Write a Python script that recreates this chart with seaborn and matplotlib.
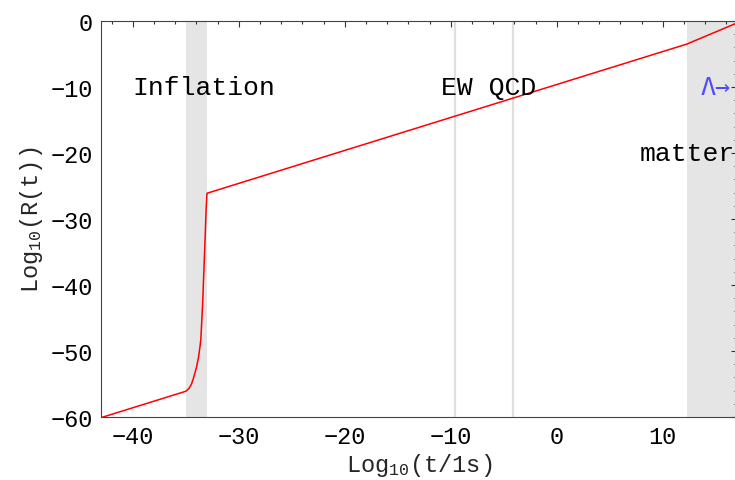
import numpy as np
import pandas as pd
import matplotlib
matplotlib.use("Agg")
import matplotlib.pyplot as plt
import seaborn as sns
from matplotlib.ticker import MultipleLocator

# scale factor history (log10 t, log10 R)
log_t = [-43.0, -35.0, -34.69, -34.46, -34.25, -33.99, -33.80, -33.65,
         -33.58, -33.42, -33.30, -33.18, -33.08, -33.0, 12.26, 17.0]
log_R = [-60.1, -56.1, -55.65, -55.0, -53.98, -52.47, -50.95, -49.2,
         -48.2, -43.1, -38.1, -33.0, -28.5, -26.1, -3.5, -0.3]

# shaded epochs and marker lines
inflation_band = (-35.0, -33.0)
matter_band = (12.3, 17.0)
transition_lines = [-9.6, -4.15]   # EW, QCD

labels = ["Inflation", "EW QCD", "matter"]
label_x = [-40.0, -10.9, 7.8]
label_y = [-10.0, -10.0, -20.0]


def main():
    sns.set_style("white")
    plt.rcParams["font.family"] = ["Liberation Mono", "DejaVu Sans"]
    plt.rcParams["mathtext.fontset"] = "custom"
    plt.rcParams["mathtext.rm"] = "Liberation Mono"
    plt.rcParams["mathtext.it"] = "Liberation Mono"
    plt.rcParams["mathtext.default"] = "rm"

    fig = plt.figure(figsize=(7.35, 4.81), dpi=100)
    ax = fig.add_axes([101 / 735, 63 / 481, 636 / 735, 396 / 481])

    df = pd.DataFrame({"t": log_t, "R": log_R})

    ax.axvspan(*inflation_band, color="#e5e5e5", lw=0, zorder=0)
    ax.axvspan(*matter_band, color="#e5e5e5", lw=0, zorder=0)
    for xv in transition_lines:
        ax.axvline(xv, color="#e0e0e0", lw=1.6, zorder=0)

    sns.lineplot(data=df, x="t", y="R", sort=False, estimator=None,
                 color="red", lw=1.1, ax=ax, zorder=3)

    for txt, x, y in zip(labels, label_x, label_y):
        ax.text(x, y, txt, fontsize=19, ha="left", va="center", color="black")
    ax.text(13.6, -10.0, "\u039b\u2192", fontsize=18, ha="left", va="center",
            color="#4d4dff", family=["DejaVu Sans Mono"])

    ax.set_xlim(-43, 17)
    ax.set_ylim(-60, 0)
    ax.xaxis.set_major_locator(MultipleLocator(10))
    ax.xaxis.set_minor_locator(MultipleLocator(2))
    ax.yaxis.set_major_locator(MultipleLocator(10))
    ax.yaxis.set_minor_locator(MultipleLocator(2))
    ax.tick_params(which="both", direction="in", top=True, right=True,
                   colors="#333333", labelcolor="black", labelsize=17, width=0.8)
    ax.tick_params(which="major", length=4.5, pad=6)
    ax.tick_params(which="minor", length=2.2)
    for s in ax.spines.values():
        s.set_color("#444444")
        s.set_linewidth(0.8)

    ax.set_xlabel("Log$_{10}$(t/1s)", fontsize=17, labelpad=2)
    ax.set_ylabel("Log$_{10}$(R(t))", fontsize=17, labelpad=4)

    fig.savefig("out.png", dpi=100)
    plt.close(fig)


if __name__ == "__main__":
    main()
